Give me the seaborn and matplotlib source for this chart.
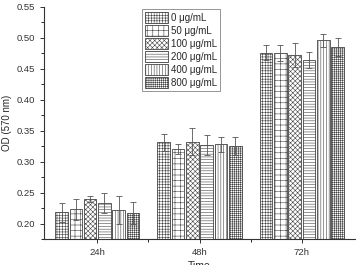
import pandas as pd
import seaborn as sns
import matplotlib.pyplot as plt
from matplotlib.ticker import MultipleLocator

times = ['24h', '48h', '72h']
concs = ['0 μg/mL', '50 μg/mL', '100 μg/mL', '200 μg/mL', '400 μg/mL', '800 μg/mL']
od_24h = [0.218, 0.223, 0.240, 0.233, 0.222, 0.217]
od_48h = [0.331, 0.320, 0.332, 0.327, 0.328, 0.325]
od_72h = [0.476, 0.476, 0.472, 0.464, 0.496, 0.485]
err_24h = [0.016, 0.017, 0.005, 0.016, 0.022, 0.018]
err_48h = [0.013, 0.008, 0.022, 0.016, 0.012, 0.015]
err_72h = [0.012, 0.013, 0.019, 0.013, 0.011, 0.014]
hatches = ['++++++', '+++', 'xxxxxxx', '------', '||||||', '++++++++']

rows = []
for t, vals, errs in zip(times, [od_24h, od_48h, od_72h], [err_24h, err_48h, err_72h]):
    for c, v, e in zip(concs, vals, errs):
        rows.append({'Time': t, 'conc': c, 'od': v, 'err': e})
df = pd.DataFrame(rows)

sns.set_style('ticks')
plt.rcParams['font.family'] = ['Liberation Sans', 'DejaVu Sans']
plt.rcParams['hatch.linewidth'] = 0.4
plt.rcParams['hatch.color'] = '#666666'

fig = plt.figure(figsize=(3.56, 2.65), dpi=100)
ax = fig.add_axes([0.124, 0.098, 0.873, 0.876])

sns.barplot(data=df, x='Time', y='od', hue='conc', errorbar=None, width=0.84,
            gap=0.12, edgecolor='#444444', linewidth=0.6, ax=ax,
            palette=['white'] * 6, saturation=1)

bar_containers = list(ax.containers)
for i, container in enumerate(bar_containers):
    sub = df[df['conc'] == concs[i]]
    for bar, (_, r) in zip(container, sub.iterrows()):
        bar.set_hatch(hatches[i])
        bar.set_facecolor('white')
        xc = bar.get_x() + bar.get_width() / 2
        ax.errorbar(xc, r['od'], yerr=r['err'], color='#555555', capsize=2,
                    elinewidth=0.6, capthick=0.6)

ax.set_ylim(0.175, 0.55)
ax.set_xlim(-0.52, 2.52)
ax.yaxis.set_major_locator(MultipleLocator(0.05))
ax.yaxis.set_minor_locator(MultipleLocator(0.025))
ax.set_xticks([0.5, 1.5], minor=True)
ax.tick_params(labelsize=6.8, width=0.7, length=3, colors='#333333')
ax.tick_params(which='minor', width=0.7, length=2)
ax.set_ylabel('OD (570 nm)', fontsize=7, labelpad=3)
ax.set_xlabel('Time', fontsize=7.5, labelpad=3)
sns.despine(ax=ax)
for s in ['left', 'bottom']:
    ax.spines[s].set_linewidth(0.8)
    ax.spines[s].set_color('#333333')

leg = ax.legend(loc='upper left', bbox_to_anchor=(0.315, 0.99), fontsize=7,
                frameon=True, fancybox=False, edgecolor='#666666',
                handlelength=2.4, handleheight=1.35, handletextpad=0.25,
                labelspacing=0.22, borderpad=0.3, borderaxespad=0)
leg.get_frame().set_linewidth(0.6)
for h, hatch in zip(leg.legend_handles, hatches):
    h.set_hatch(hatch)
    h.set_facecolor('white')
    h.set_edgecolor('#444444')

fig.savefig('out.png', dpi=100)
